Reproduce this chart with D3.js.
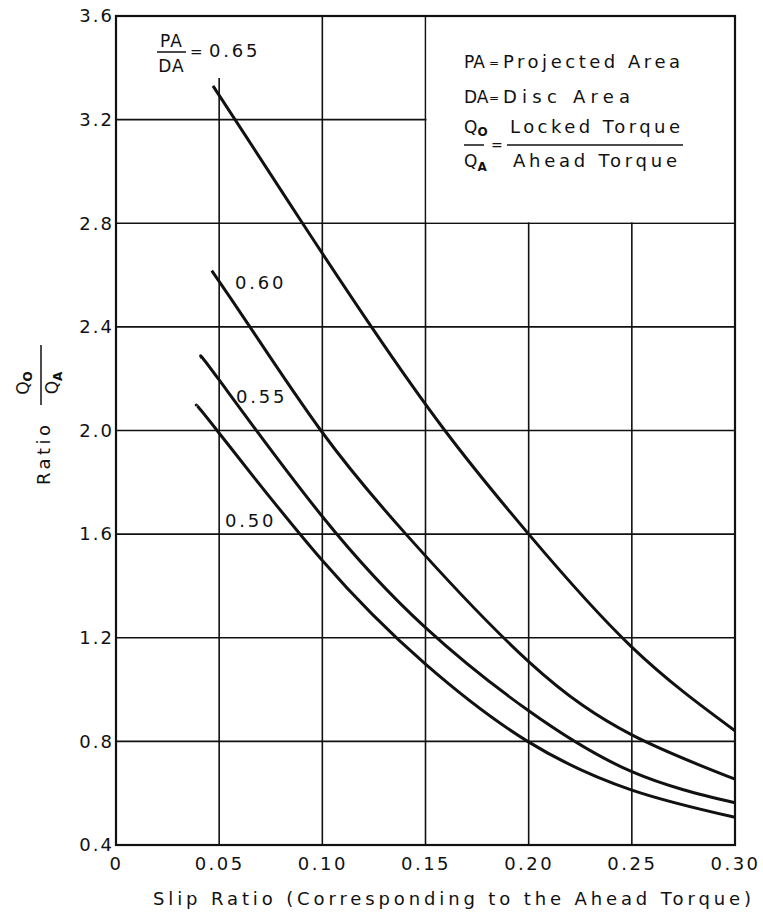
<!DOCTYPE html>
<html>
<head>
<meta charset="utf-8">
<script src="https://cdn.jsdelivr.net/npm/d3@7"></script>
<style>
  body { margin: 0; background: #fff; }
  svg text { font-family: "DejaVu Sans", sans-serif; fill: #111; }
</style>
</head>
<body>
<svg id="drawing_region"></svg>
<script>
// axis ticks and labels
const xTicks = [0, 0.05, 0.10, 0.15, 0.20, 0.25, 0.30];
const xTickLabels = ["0", "0.05", "0.10", "0.15", "0.20", "0.25", "0.30"];
const yTicks = [0.4, 0.8, 1.2, 1.6, 2.0, 2.4, 2.8, 3.2, 3.6];
const yTickLabels = ["0.4", "0.8", "1.2", "1.6", "2.0", "2.4", "2.8", "3.2", "3.6"];

// curves: [slip ratio, Qo/Qa]
const ratioNames = ["0.50", "0.55", "0.60", "0.65"];
const curve050 = [[0.039, 2.095], [0.049, 2.0], [0.10, 1.498], [0.15, 1.098], [0.1995, 0.8], [0.25, 0.612], [0.30, 0.507]];
const curve055 = [[0.0415, 2.28], [0.05, 2.195], [0.10, 1.668], [0.15, 1.239], [0.20, 0.918], [0.25, 0.683], [0.30, 0.563]];
const curve060 = [[0.0464, 2.617], [0.0649, 2.4], [0.0993, 2.0], [0.1405, 1.6], [0.20, 1.108], [0.25, 0.825], [0.30, 0.654]];
const curve065 = [[0.047, 3.33], [0.0577, 3.2], [0.0904, 2.8], [0.1238, 2.4], [0.1594, 2.0], [0.20, 1.60], [0.25, 1.164], [0.30, 0.841]];

const W = 763, H = 912;
const svg = d3.select('#drawing_region').attr('width', W).attr('height', H);
svg.append('rect').attr('width', W).attr('height', H).attr('fill', '#fff');

const pLeft = 116, pRight = 735, pTop = 16, pBottom = 845;
const x = d3.scaleLinear().domain([0, 0.30]).range([pLeft, pRight]);
const y = d3.scaleLinear().domain([0.4, 3.6]).range([pBottom, pTop]);

// grid
const grid = svg.append('g').attr('stroke', '#111').attr('stroke-width', 1.6);
grid.selectAll('.vg').data(xTicks.slice(1, -1)).enter().append('line')
    .attr('x1', d => x(d)).attr('x2', d => x(d))
    .attr('y1', pTop).attr('y2', pBottom);
grid.selectAll('.hg').data(yTicks.slice(1, -1)).enter().append('line')
    .attr('x1', pLeft).attr('x2', pRight)
    .attr('y1', d => y(d)).attr('y2', d => y(d));

// legend box sits over the grid cells in the top right
svg.append('rect')
    .attr('x', x(0.15) + 1).attr('y', pTop + 1)
    .attr('width', x(0.30) - x(0.15) - 2).attr('height', y(2.8) - pTop - 2)
    .attr('fill', '#fff');
// room for the top label
svg.append('rect').attr('x', 150).attr('y', pTop + 1).attr('width', 120).attr('height', 61).attr('fill', '#fff');

// frame
svg.append('rect')
    .attr('x', pLeft).attr('y', pTop)
    .attr('width', pRight - pLeft).attr('height', pBottom - pTop)
    .attr('fill', 'none').attr('stroke', '#111').attr('stroke-width', 2.2);

// axes labels
const xAxis = d3.axisBottom(x).tickValues(xTicks)
    .tickFormat((d, i) => xTickLabels[i]).tickSize(0).tickPadding(12);
const gx = svg.append('g').attr('transform', `translate(0,${pBottom})`).call(xAxis);
gx.select('.domain').remove();
gx.selectAll('text').attr('font-size', 18).attr('letter-spacing', 2.5)
    .attr('font-family', '"DejaVu Sans", sans-serif').attr('fill', '#111');

const yAxis = d3.axisLeft(y).tickValues(yTicks)
    .tickFormat((d, i) => yTickLabels[i]).tickSize(0).tickPadding(2);
const gy = svg.append('g').attr('transform', `translate(${pLeft},0)`).call(yAxis);
gy.select('.domain').remove();
gy.selectAll('text').attr('font-size', 18).attr('letter-spacing', 2)
    .attr('font-family', '"DejaVu Sans", sans-serif').attr('fill', '#111');

// curves
const line = d3.line().x(d => x(d[0])).y(d => y(d[1])).curve(d3.curveNatural);
svg.selectAll('.curve').data([curve050, curve055, curve060, curve065]).enter()
    .append('path')
    .attr('d', line)
    .attr('fill', 'none')
    .attr('stroke', '#111')
    .attr('stroke-width', 3);

// curve labels
const labelPos = [[225, 527], [236, 403], [235, 289]];
labelPos.forEach((p, i) => {
    svg.append('text').attr('x', p[0]).attr('y', p[1])
        .attr('font-size', 18).attr('letter-spacing', 2.8).text(ratioNames[i]);
});

// PA/DA = 0.65
svg.append('text').attr('x', 171.5).attr('y', 47).attr('text-anchor', 'middle')
    .attr('font-size', 17).attr('letter-spacing', 1).text('PA');
svg.append('line').attr('x1', 157).attr('x2', 186).attr('y1', 52).attr('y2', 52)
    .attr('stroke', '#111').attr('stroke-width', 1.5);
svg.append('text').attr('x', 171.5).attr('y', 72).attr('text-anchor', 'middle')
    .attr('font-size', 17).attr('letter-spacing', 1).text('DA');
svg.append('text').attr('x', 190).attr('y', 57).attr('font-size', 15).text('=');
svg.append('text').attr('x', 209).attr('y', 57)
    .attr('font-size', 18).attr('letter-spacing', 2.8).text(ratioNames[3]);

// legend text
const lg = svg.append('g');
function legendText(tx, ty, str, len) {
    const t = lg.append('text').attr('x', tx).attr('y', ty).attr('font-size', 18).text(str);
    if (len) t.attr('textLength', len).attr('lengthAdjust', 'spacing');
    return t;
}
legendText(464, 68, 'PA').attr('font-size', 17);
legendText(489, 67, '=').attr('font-size', 12);
legendText(503, 68, 'Projected Area', 177);
legendText(464, 103, 'DA').attr('font-size', 17);
legendText(489, 102, '=').attr('font-size', 12);
legendText(503, 103, 'Disc Area', 127);
const qo = lg.append('text').attr('x', 464).attr('y', 133).attr('font-size', 17);
qo.append('tspan').text('Q');
qo.append('tspan').attr('dy', 3).attr('font-size', 12).attr('font-weight', 'bold').text('O');
lg.append('line').attr('x1', 464).attr('x2', 484).attr('y1', 145).attr('y2', 145)
    .attr('stroke', '#111').attr('stroke-width', 1.5);
const qa = lg.append('text').attr('x', 464).attr('y', 167).attr('font-size', 17);
qa.append('tspan').text('Q');
qa.append('tspan').attr('dy', 4).attr('font-size', 12).attr('font-weight', 'bold').text('A');
legendText(491, 150, '=').attr('font-size', 14);
legendText(510, 133, 'Locked Torque', 170);
lg.append('line').attr('x1', 507).attr('x2', 683).attr('y1', 145).attr('y2', 145)
    .attr('stroke', '#111').attr('stroke-width', 1.5);
legendText(513, 167, 'Ahead Torque', 164);

// x title
svg.append('text').attr('x', 153).attr('y', 905).attr('font-size', 18)
    .attr('textLength', 598).attr('lengthAdjust', 'spacing')
    .text('Slip Ratio (Corresponding to the Ahead Torque)');

// y title
const yt = svg.append('g').attr('transform', 'translate(41,375) rotate(-90)');
yt.append('line').attr('x1', -30).attr('x2', 30).attr('y1', 0).attr('y2', 0)
    .attr('stroke', '#111').attr('stroke-width', 1.5);
const yn = yt.append('text').attr('x', -8).attr('y', -12).attr('text-anchor', 'middle').attr('font-size', 17);
yn.append('tspan').text('Q');
yn.append('tspan').attr('dy', 3).attr('font-size', 12).attr('font-weight', 'bold').text('O');
const yd = yt.append('text').attr('x', -8).attr('y', 17).attr('text-anchor', 'middle').attr('font-size', 17);
yd.append('tspan').text('Q');
yd.append('tspan').attr('dy', 4).attr('font-size', 12).attr('font-weight', 'bold').text('A');
svg.append('text').attr('x', -485).attr('y', 50).attr('transform', 'rotate(-90)')
    .attr('font-size', 18).attr('textLength', 60).attr('lengthAdjust', 'spacing').text('Ratio');
</script>
</body>
</html>
